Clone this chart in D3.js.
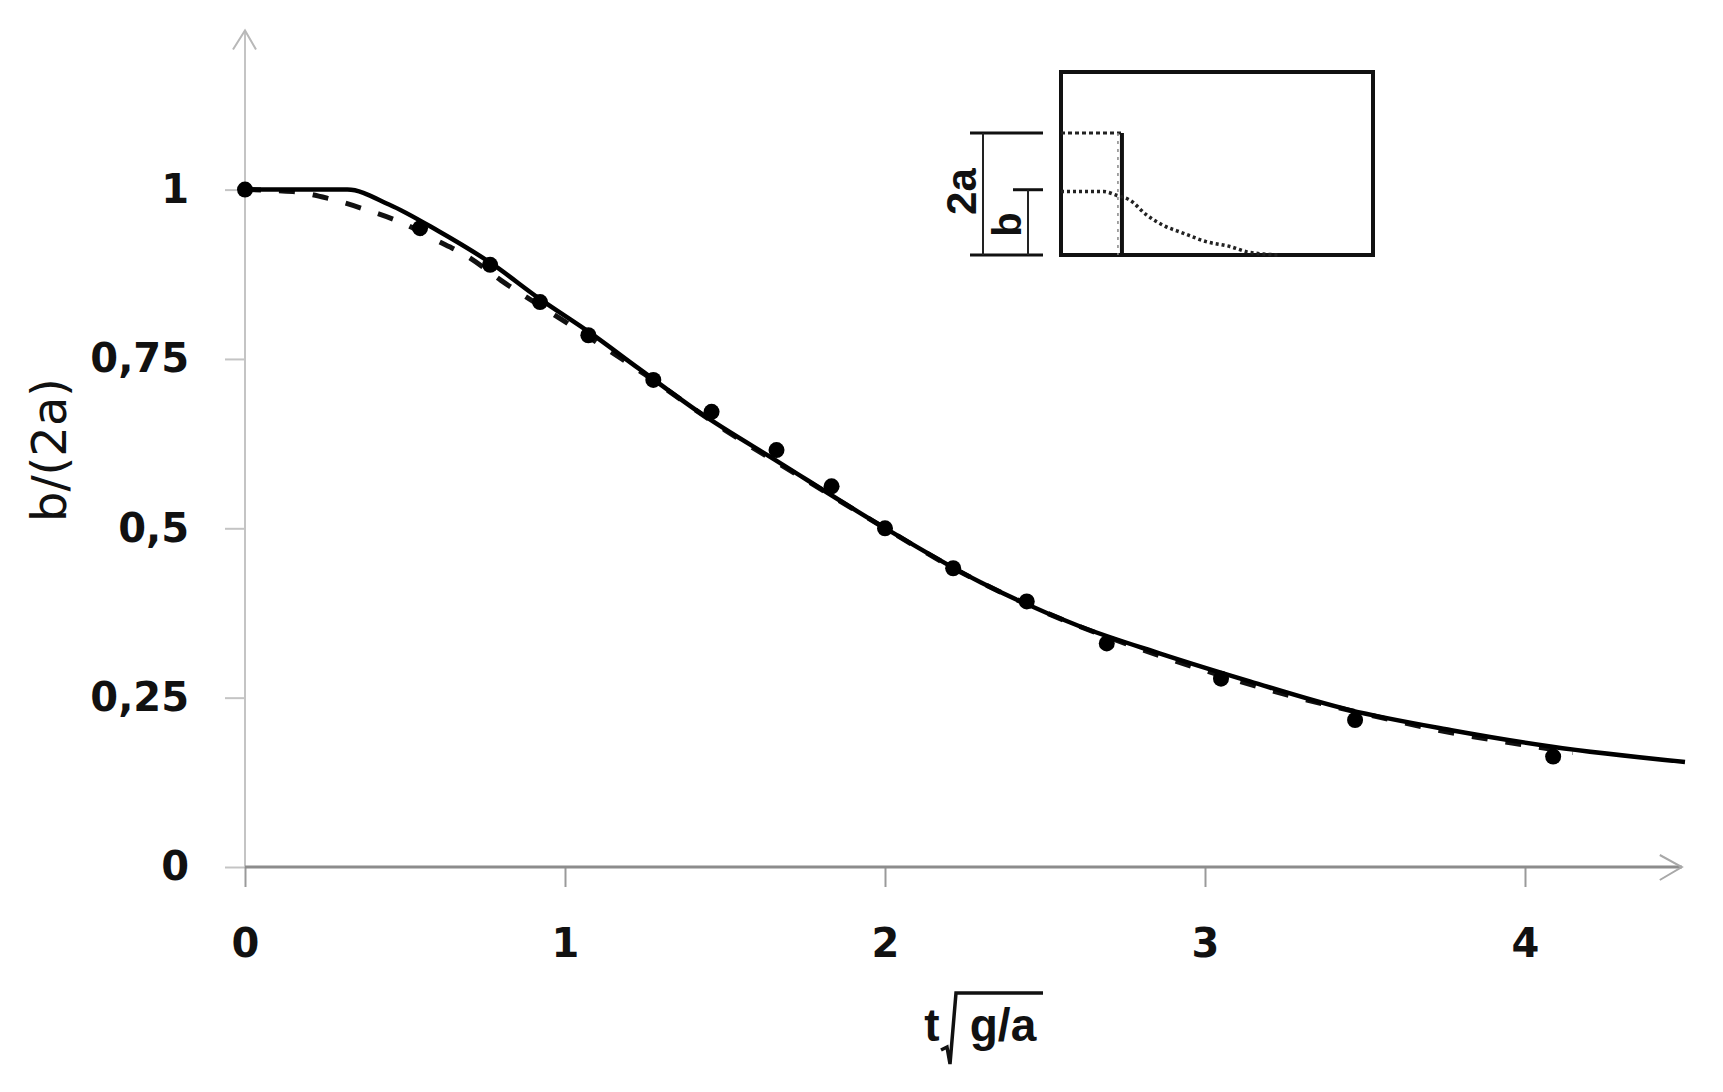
<!DOCTYPE html>
<html><head><meta charset="utf-8">
<script src="https://cdn.jsdelivr.net/npm/d3@7"></script>
<style>html,body{margin:0;padding:0;background:#fff;} svg{display:block}</style>
</head><body>
<svg id="chart" width="1723" height="1092"></svg>
<script>
// ---- data ----
const xTicks = [0, 1, 2, 3, 4];
const xTickLabels = ["0", "1", "2", "3", "4"];
const yTicks = [0, 0.25, 0.5, 0.75, 1];
const yTickLabels = ["0", "0,25", "0,5", "0,75", "1"];

// solid curve (theory)
const solidX = [0, 0.32, 0.45, 0.6, 0.77, 0.92, 1.08, 1.23, 1.42, 1.67, 1.98, 2.3, 2.61, 2.86, 3.14, 3.45, 3.77, 4.08, 4.5];
const solidY = [1, 1, 0.978, 0.94, 0.891, 0.839, 0.788, 0.736, 0.671, 0.597, 0.506, 0.42, 0.355, 0.315, 0.274, 0.232, 0.202, 0.178, 0.155];

// dashed curve
const dashX = [0, 0.15, 0.26, 0.38, 0.49, 0.59, 0.7, 0.8, 1.0, 1.25, 1.5, 1.75, 2.0, 2.25, 2.5, 2.75, 3.0, 3.25, 3.5, 3.75, 4.0, 4.15];
const dashY = [1, 0.997, 0.987, 0.970, 0.951, 0.927, 0.900, 0.866, 0.805, 0.727, 0.645, 0.572, 0.500, 0.432, 0.376, 0.330, 0.290, 0.255, 0.226, 0.200, 0.180, 0.169];

// experimental points
const dotX = [0, 0.547, 0.766, 0.922, 1.073, 1.276, 1.458, 1.661, 1.833, 2.0, 2.213, 2.443, 2.693, 3.05, 3.469, 4.088];
const dotY = [1.0, 0.943, 0.889, 0.834, 0.785, 0.719, 0.672, 0.6155, 0.562, 0.500, 0.441, 0.392, 0.330, 0.278, 0.217, 0.163];

// inset schematic (units of a)
const insetSurfX = [0, 0.7, 0.91, 1.13, 1.4, 1.67, 2.0, 2.38, 2.77, 3.04, 3.32, 3.6];
const insetSurfY = [1.04, 1.04, 0.98, 0.9, 0.66, 0.49, 0.36, 0.22, 0.14, 0.055, 0.016, 0];
const insetBox = {w: 5.12, h: 3.0};
const columnWidth = 1.0, columnHeight = 2.0, bHeight = 1.07;

// ---- drawing ----
const svg = d3.select("#chart");
const x = d3.scaleLinear().domain([0, 4.5]).range([245, 1685]);
const y = d3.scaleLinear().domain([0, 1]).range([867, 189.6]);
const yAxisTop = 1.235, xAxisEnd = 4.49;

// y axis ticks/labels
const yAxis = d3.axisLeft(y).tickValues(yTicks).tickSize(20).tickPadding(36)
  .tickFormat((d, i) => yTickLabels[i]);
const gy = svg.append("g").attr("transform", `translate(${x(0)},0)`).call(yAxis);
gy.select(".domain").remove();
gy.selectAll(".tick line").attr("stroke", "#c4c4c4").attr("stroke-width", 2);
gy.selectAll(".tick text").attr("font-family", "DejaVu Sans").attr("font-weight", "bold")
  .attr("font-size", 40).attr("fill", "#111");

// x axis ticks/labels
const xAxis = d3.axisBottom(x).tickValues(xTicks).tickSize(20).tickPadding(42)
  .tickFormat((d, i) => xTickLabels[i]);
const gx = svg.append("g").attr("transform", `translate(0,${y(0)})`).call(xAxis);
gx.select(".domain").remove();
gx.selectAll(".tick line").attr("stroke", "#9a9a9a").attr("stroke-width", 2);
gx.selectAll(".tick text").attr("font-family", "DejaVu Sans").attr("font-weight", "bold")
  .attr("font-size", 40).attr("fill", "#111");

// axis lines with open arrowheads
svg.append("line").attr("x1", x(0)).attr("x2", x(0)).attr("y1", y(0)).attr("y2", y(yAxisTop))
  .attr("stroke", "#c4c4c4").attr("stroke-width", 2);
svg.append("path").attr("d", `M${x(0)-12},${y(yAxisTop)+19} L${x(0)},${y(yAxisTop)} L${x(0)+11},${y(yAxisTop)+19}`)
  .attr("fill", "none").attr("stroke", "#b8b8b8").attr("stroke-width", 2);
svg.append("line").attr("x1", x(0)).attr("x2", x(xAxisEnd)).attr("y1", y(0)).attr("y2", y(0))
  .attr("stroke", "#8c8c8c").attr("stroke-width", 3);
svg.append("path").attr("d", `M${x(xAxisEnd)-22},${y(0)-12} L${x(xAxisEnd)},${y(0)} L${x(xAxisEnd)-22},${y(0)+13}`)
  .attr("fill", "none").attr("stroke", "#a8a8a8").attr("stroke-width", 2);

// curves
const solid = solidX.map((v, i) => [v, solidY[i]]);
const dashed = dashX.map((v, i) => [v, dashY[i]]);
const line = d3.line().x(d => x(d[0])).y(d => y(d[1])).curve(d3.curveMonotoneX);

svg.append("path").attr("d", line(dashed)).attr("fill", "none").attr("stroke", "#111")
  .attr("stroke-width", 5).attr("stroke-dasharray", "16,18");
svg.append("path").attr("d", line(solid)).attr("fill", "none").attr("stroke", "#000")
  .attr("stroke-width", 4.5);

svg.append("g").selectAll("circle").data(dotX.map((v, i) => [v, dotY[i]])).join("circle")
  .attr("cx", d => x(d[0])).attr("cy", d => y(d[1])).attr("r", 8).attr("fill", "#000");

// axis titles
svg.append("text").attr("transform", "translate(66,450) rotate(-90)")
  .attr("text-anchor", "middle").attr("font-family", "DejaVu Sans").attr("font-size", 48)
  .attr("fill", "#111").text("b/(2a)");

const xt = svg.append("g");
xt.append("text").attr("x", 932).attr("y", 1041).attr("text-anchor", "middle")
  .attr("font-family", "Liberation Sans").attr("font-weight", "bold").attr("font-size", 46)
  .attr("fill", "#111").text("t");
xt.append("path").attr("d", "M941,1050 L947,1047 L950,1064 L956,993 L1043,993")
  .attr("fill", "none").attr("stroke", "#111").attr("stroke-width", 3.5);
xt.append("text").attr("x", 1003).attr("y", 1041).attr("text-anchor", "middle")
  .attr("font-family", "Liberation Sans").attr("font-weight", "bold").attr("font-size", 46)
  .attr("fill", "#111").text("g/a");

// ---- inset ----
const ix = d3.scaleLinear().domain([0, insetBox.w]).range([1061, 1373]);
const iy = d3.scaleLinear().domain([0, insetBox.h]).range([255, 72]);
const ins = svg.append("g");
ins.append("rect").attr("x", ix(0)).attr("y", iy(insetBox.h)).attr("width", ix(insetBox.w) - ix(0))
  .attr("height", iy(0) - iy(insetBox.h)).attr("fill", "none").attr("stroke", "#111").attr("stroke-width", 4);
// column: dotted top and inner edge, solid gate
ins.append("line").attr("x1", ix(0)).attr("x2", ix(columnWidth)).attr("y1", iy(columnHeight)).attr("y2", iy(columnHeight))
  .attr("stroke", "#222").attr("stroke-width", 3).attr("stroke-dasharray", "4,3");
ins.append("line").attr("x1", ix(columnWidth) - 4).attr("x2", ix(columnWidth) - 4).attr("y1", iy(columnHeight)).attr("y2", iy(0))
  .attr("stroke", "#888").attr("stroke-width", 1.5).attr("stroke-dasharray", "3,5");
ins.append("line").attr("x1", ix(columnWidth)).attr("x2", ix(columnWidth)).attr("y1", iy(columnHeight)).attr("y2", iy(0))
  .attr("stroke", "#111").attr("stroke-width", 4);
// surface profile (dotted)
const surf = insetSurfX.map((v, i) => [v, insetSurfY[i]]);
ins.append("path").attr("d", d3.line().x(d => ix(d[0])).y(d => iy(d[1])).curve(d3.curveMonotoneX)(surf))
  .attr("fill", "none").attr("stroke", "#222").attr("stroke-width", 3.5).attr("stroke-dasharray", "3,3");
// dimension lines
const dimX2a = 983, dimXb = 1028;
ins.append("line").attr("x1", 970).attr("x2", 1043).attr("y1", iy(columnHeight)).attr("y2", iy(columnHeight))
  .attr("stroke", "#111").attr("stroke-width", 3);
ins.append("line").attr("x1", 970).attr("x2", 1043).attr("y1", iy(0)).attr("y2", iy(0))
  .attr("stroke", "#111").attr("stroke-width", 3);
ins.append("line").attr("x1", dimX2a).attr("x2", dimX2a).attr("y1", iy(columnHeight)).attr("y2", iy(0))
  .attr("stroke", "#222").attr("stroke-width", 2);
ins.append("line").attr("x1", 1013).attr("x2", 1043).attr("y1", iy(bHeight)).attr("y2", iy(bHeight))
  .attr("stroke", "#111").attr("stroke-width", 3);
ins.append("line").attr("x1", dimXb).attr("x2", dimXb).attr("y1", iy(bHeight)).attr("y2", iy(0))
  .attr("stroke", "#222").attr("stroke-width", 2);
ins.append("text").attr("transform", `translate(976,${iy(1.04)}) rotate(-90)`).attr("text-anchor", "middle")
  .attr("font-family", "Liberation Sans").attr("font-weight", "bold").attr("font-size", 42)
  .attr("fill", "#111").text("2a");
ins.append("text").attr("transform", `translate(1021,${iy(0.5)}) rotate(-90)`).attr("text-anchor", "middle")
  .attr("font-family", "Liberation Sans").attr("font-weight", "bold").attr("font-size", 40)
  .attr("fill", "#111").text("b");
</script>
</body></html>
